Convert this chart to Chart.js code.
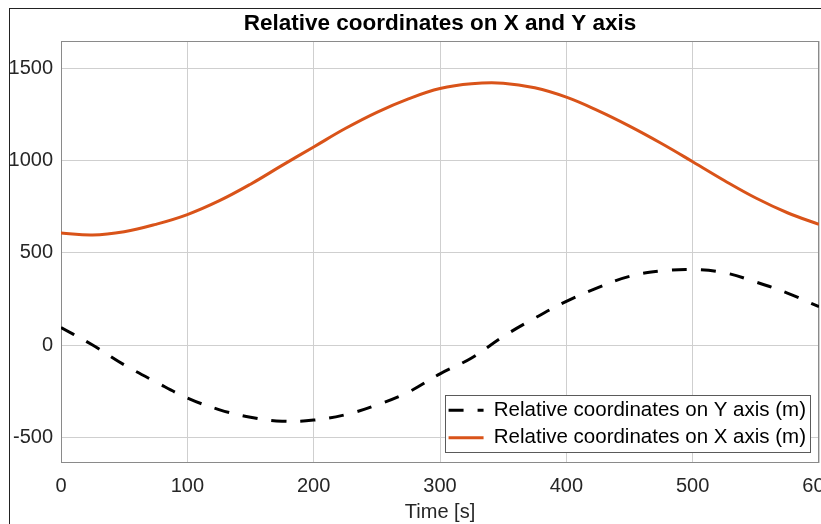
<!DOCTYPE html>
<html>
<head>
<meta charset="utf-8">
<title>Relative coordinates on X and Y axis</title>
<script src="https://cdn.jsdelivr.net/npm/chart.js@4.4.1/dist/chart.umd.min.js"></script>
<style>
  html, body { margin: 0; padding: 0; background: #fff; overflow: hidden; }
  #wrap { position: relative; width: 821px; height: 524px; overflow: hidden; }
  #chart { position: absolute; left: 0; top: 0; }
  #frame { position: absolute; left: 9px; top: 8px; width: 900px; height: 600px;
           border-left: 1px solid #222; border-top: 1px solid #222; pointer-events: none; }
</style>
</head>
<body>
<div id="wrap">
  <canvas id="chart" width="850" height="524"></canvas>
  <div id="frame"></div>
</div>
<script>
'use strict'

// time in seconds
const timeSeconds = [0, 25, 50, 75, 100, 125, 150, 175, 200, 225, 250, 275, 300,
  325, 350, 375, 400, 425, 450, 475, 500, 525, 550, 575, 600]

// relative coordinate on X axis (m)
const relativeX = [608, 597, 615, 655, 708, 782, 873, 975, 1075, 1175, 1263, 1336, 1392,
  1418, 1421, 1396, 1345, 1272, 1188, 1095, 995, 893, 798, 718, 655]

// relative coordinate on Y axis (m)
const relativeY = [95, 0, -107, -200, -287, -350, -392, -413, -407, -378, -325, -255, -156,
  -70, 46, 146, 237, 312, 373, 402, 410, 393, 342, 282, 208]

const xTicks = [0, 100, 200, 300, 400, 500, 600]
const yTicks = [-500, 0, 500, 1000, 1500]

const labelY = 'Relative coordinates on Y axis (m)'
const labelX = 'Relative coordinates on X axis (m)'

Chart.defaults.font.family = "'Liberation Sans', Arial, Helvetica, sans-serif"
Chart.defaults.color = '#262626'

function toPoints (values) {
  return timeSeconds.map((t, i) => ({ x: t, y: values[i] }))
}

function drawLegendBox (chart) {
  const legend = chart.legend
  const ctx = chart.ctx
  const left = Math.round(legend.left + 3)
  const top = Math.round(legend.top + 2)
  const right = Math.round(legend.boxRight)
  const bottom = Math.round(legend.boxBottom)
  ctx.save()
  ctx.fillStyle = '#ffffff'
  ctx.fillRect(left, top, right - left, bottom - top)
  ctx.strokeStyle = '#5a5a5a'
  ctx.lineWidth = 1
  ctx.strokeRect(left + 0.5, top + 0.5, right - left, bottom - top)
  ctx.restore()
}

// matlab-like look: boxed axes and a boxed legend inside the plot
const matlabLook = {
  id: 'matlabLook',
  beforeLayout (chart) {
    const legend = chart.legend
    if (!legend || legend._moved) return
    legend._moved = true
    legend._layers = () => [{ z: 10, draw: () => { drawLegendBox(chart); legend.draw() } }]
  },
  afterLayout (chart) {
    const legend = chart.legend
    const area = chart.chartArea
    const itemWidth = Math.max(...legend.legendHitBoxes.map(h => h.width))
    legend.boxRight = area.right - 9
    legend.boxBottom = area.bottom - 11
    legend.left = legend.boxRight - 4 - 7 - itemWidth
    legend.right = legend.boxRight + 1
    legend.top = legend.boxBottom - 59
    legend.bottom = legend.top + 120
  },
  beforeDatasetsDraw (chart) {
    const { ctx, chartArea: area } = chart
    ctx.save()
    ctx.strokeStyle = '#8a8a8a'
    ctx.lineWidth = 1
    ctx.strokeRect(Math.round(area.left) + 0.5, Math.round(area.top) + 0.5,
      Math.round(area.right - area.left) - 1, Math.round(area.bottom - area.top) - 1)
    ctx.restore()
  }
}

const ctx = document.getElementById('chart').getContext('2d')
new Chart(ctx, {
  type: 'line',
  data: {
    datasets: [
      {
        label: labelY,
        data: toPoints(relativeY),
        borderColor: '#000000',
        backgroundColor: '#000000',
        borderWidth: 3,
        borderDash: [15, 14],
        pointRadius: 0,
        fill: false,
        tension: 0.4
      },
      {
        label: labelX,
        data: toPoints(relativeX),
        borderColor: '#D95319',
        backgroundColor: '#D95319',
        borderWidth: 3,
        pointRadius: 0,
        fill: false,
        tension: 0.4
      }
    ]
  },
  options: {
    responsive: false,
    animation: false,
    devicePixelRatio: 1,
    layout: { padding: { left: 9, right: 31, top: 0, bottom: 0 } },
    scales: {
      x: {
        type: 'linear',
        min: 0,
        max: 600,
        afterBuildTicks: scale => { scale.ticks = xTicks.map(v => ({ value: v })) },
        afterFit: scale => { scale.height = 61 },
        ticks: { padding: 11, font: { size: 20 }, color: '#262626', callback: v => String(v) },
        grid: { color: '#cfcfcf', drawTicks: false },
        border: { display: false },
        title: { display: true, text: 'Time [s]', font: { size: 20 }, color: '#262626', padding: 0 }
      },
      y: {
        type: 'linear',
        min: -640,
        max: 1650,
        afterBuildTicks: scale => { scale.ticks = yTicks.map(v => ({ value: v })) },
        afterFit: scale => { scale.width = 52 },
        ticks: { padding: 8, font: { size: 20 }, color: '#262626', callback: v => String(v) },
        grid: { color: '#cfcfcf', drawTicks: false },
        border: { display: false }
      }
    },
    plugins: {
      title: {
        display: true,
        fullSize: false,
        text: 'Relative coordinates on X and Y axis',
        color: '#000000',
        font: { size: 22.5, weight: 'bold' },
        padding: { top: 10, bottom: 4 }
      },
      legend: {
        position: 'chartArea',
        align: 'start',
        labels: {
          usePointStyle: true,
          pointStyle: 'line',
          pointStyleWidth: 35,
          boxWidth: 35,
          padding: 7,
          color: '#000000',
          font: { size: 20.5 },
          generateLabels: chart => {
            const items = Chart.defaults.plugins.legend.labels.generateLabels(chart)
            return items.map(item => {
              const dataset = chart.data.datasets[item.datasetIndex]
              return Object.assign(item, {
                lineDash: dataset.borderDash || [],
                lineWidth: dataset.borderWidth,
                strokeStyle: dataset.borderColor,
                fillStyle: dataset.borderColor
              })
            })
          }
        }
      },
      tooltip: { enabled: false }
    }
  },
  plugins: [matlabLook]
})
</script>
</body>
</html>
